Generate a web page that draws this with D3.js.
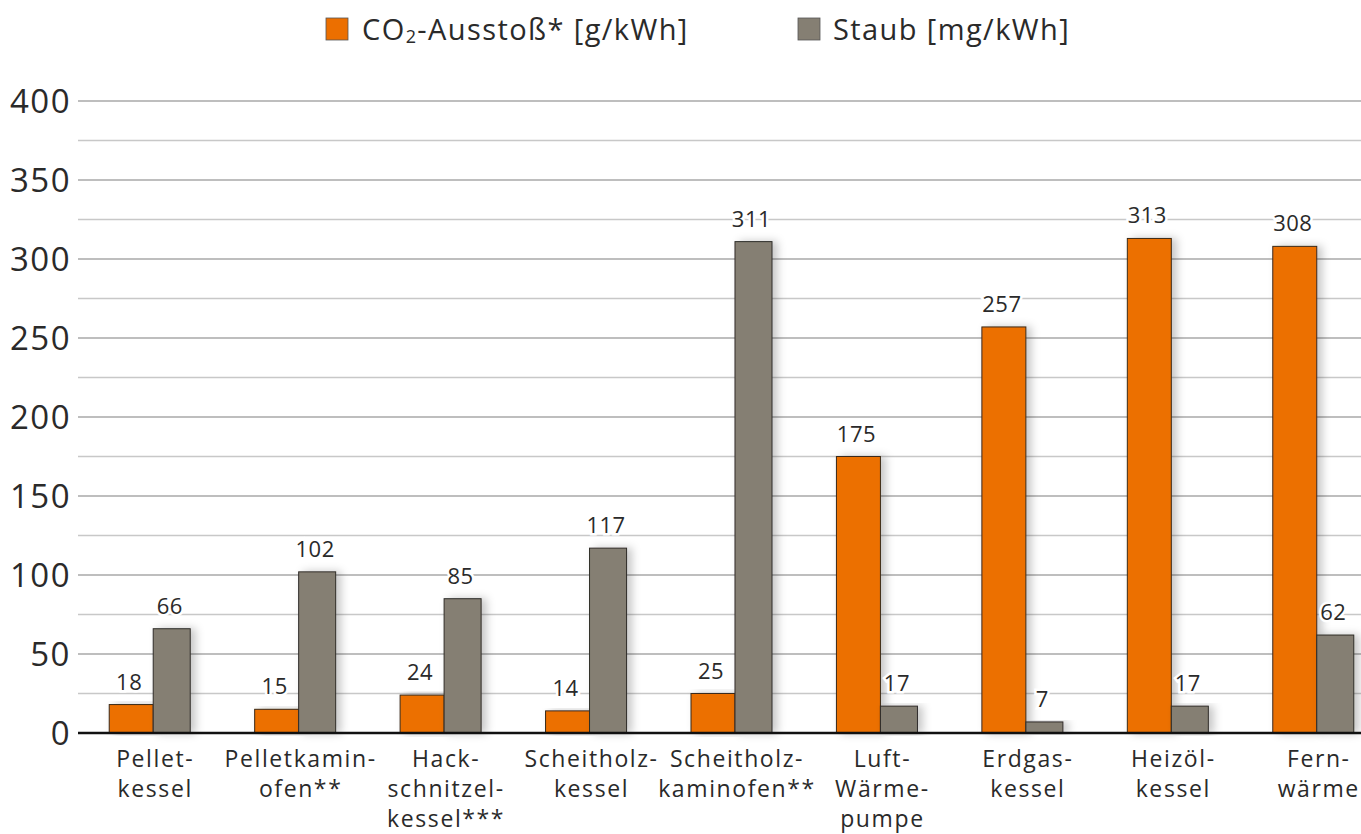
<!DOCTYPE html>
<html>
<head>
<meta charset="utf-8">
<script src="https://cdn.jsdelivr.net/npm/d3@7"></script>
<style>
  body { margin: 0; background: #fff; }
  svg { display: block; font-family: "Open Sans", sans-serif; }
</style>
</head>
<body>
<svg id="chart" width="1361" height="834"></svg>
<script>
(function() {
    "use strict";

    // category labels, one entry per line
    var categories = [
        ["Pellet-", "kessel"],
        ["Pelletkamin-", "ofen**"],
        ["Hack-", "schnitzel-", "kessel***"],
        ["Scheitholz-", "kessel"],
        ["Scheitholz-", "kaminofen**"],
        ["Luft-", "Wärme-", "pumpe"],
        ["Erdgas-", "kessel"],
        ["Heizöl-", "kessel"],
        ["Fern-", "wärme"]
    ];
    var co2Values = [18, 15, 24, 14, 25, 175, 257, 313, 308];
    var staubValues = [66, 102, 85, 117, 311, 17, 7, 17, 62];
    var yTicks = [0, 50, 100, 150, 200, 250, 300, 350, 400];
    var yMinorTicks = [25, 75, 125, 175, 225, 275, 325, 375];
    var legendItems = ["co2", "staub"];

    var colors = { co2: "#ec6f00", staub: "#857f73" };
    var W = 1361;

    var svg = d3.select("#chart");

    var defs = svg.append("defs");
    var f = defs.append("filter").attr("id", "shadow")
        .attr("x", "-20%").attr("y", "-10%").attr("width", "160%").attr("height", "120%");
    f.append("feDropShadow").attr("dx", 5).attr("dy", 0)
        .attr("stdDeviation", 4).attr("flood-color", "#000").attr("flood-opacity", 0.22);

    var y = d3.scaleLinear().domain([0, 400]).range([733, 101]);
    var x = d3.scaleBand()
        .domain(d3.range(categories.length))
        .range([77, 1386])
        .paddingInner(0.443)
        .paddingOuter(0.2215);
    // orange bar a bit wider than the grey one
    var split = d3.scaleLinear().domain([0, 1]).range([0, x.bandwidth()]);
    var orangeShare = 0.543;

    // grid
    var grid = svg.append("g");
    grid.selectAll("line.minor").data(yMinorTicks).join("line")
        .attr("class", "minor")
        .attr("x1", 78).attr("x2", W)
        .attr("y1", function(d) { return y(d); }).attr("y2", function(d) { return y(d); })
        .attr("stroke", "#c8c8c8").attr("stroke-width", 1.5);
    grid.selectAll("line.major").data(yTicks.filter(function(d) { return d > 0; })).join("line")
        .attr("class", "major")
        .attr("x1", 78).attr("x2", W)
        .attr("y1", function(d) { return y(d); }).attr("y2", function(d) { return y(d); })
        .attr("stroke", "#a8a8a8").attr("stroke-width", 1.5);

    // y tick labels
    svg.append("g").selectAll("text").data(yTicks).join("text")
        .attr("x", 71)
        .attr("y", function(d) { return y(d) + 12; })
        .attr("text-anchor", "end")
        .attr("font-size", 33)
        .attr("letter-spacing", 1.5)
        .attr("fill", "#2a2a2a")
        .text(function(d) { return d; });

    // bars
    var groups = svg.append("g").selectAll("g").data(categories).join("g");

    groups.append("rect")
        .attr("x", function(d, i) { return x(i); })
        .attr("y", function(d, i) { return y(co2Values[i]); })
        .attr("width", split(orangeShare))
        .attr("height", function(d, i) { return y(0) - y(co2Values[i]); })
        .attr("fill", colors.co2)
        .attr("stroke", "#3a2a1a").attr("stroke-width", 1)
        .attr("filter", "url(#shadow)");

    groups.append("rect")
        .attr("x", function(d, i) { return x(i) + split(orangeShare); })
        .attr("y", function(d, i) { return y(staubValues[i]); })
        .attr("width", split(1 - orangeShare))
        .attr("height", function(d, i) { return y(0) - y(staubValues[i]); })
        .attr("fill", colors.staub)
        .attr("stroke", "#2f2c28").attr("stroke-width", 1)
        .attr("filter", "url(#shadow)");

    // value labels
    function valueLabel(sel, vals, offset, share) {
        sel.append("text")
            .attr("x", function(d, i) { return x(i) + split(offset) + split(share) / 2 - 2; })
            .attr("y", function(d, i) { return y(vals[i]) - 15; })
            .attr("text-anchor", "middle")
            .attr("font-size", 22)
            .attr("letter-spacing", 0.5)
            .attr("fill", "#2a2a2a")
            .attr("stroke", "#fff").attr("stroke-width", 5)
            .attr("paint-order", "stroke")
            .text(function(d, i) { return vals[i]; });
    }
    valueLabel(groups, co2Values, 0, orangeShare);
    valueLabel(groups, staubValues, orangeShare, 1 - orangeShare);

    // baseline
    svg.append("line")
        .attr("x1", 78).attr("x2", W)
        .attr("y1", y(0)).attr("y2", y(0))
        .attr("stroke", "#111").attr("stroke-width", 2.5);

    // category labels
    groups.append("text")
        .attr("text-anchor", "middle")
        .attr("font-size", 23)
        .attr("letter-spacing", 1.6)
        .attr("fill", "#2a2a2a")
        .selectAll("tspan").data(function(d, i) { return d.map(function(t) { return { t: t, i: i }; }); })
        .join("tspan")
        .attr("x", function(d) { return x(d.i) + split(orangeShare) + 2; })
        .attr("y", function(d, j) { return 767 + j * 30; })
        .text(function(d) { return d.t; });

    // legend
    var legend = svg.append("g");
    var legendX = { co2: 326, staub: 798 };
    legend.selectAll("rect").data(legendItems).join("rect")
        .attr("x", function(d) { return legendX[d]; })
        .attr("y", 18)
        .attr("width", 22).attr("height", 22)
        .attr("fill", function(d) { return colors[d]; })
        .attr("stroke", "#555").attr("stroke-width", 0.8);

    var t1 = legend.append("text").attr("x", legendX.co2 + 36).attr("y", 40)
        .attr("font-size", 29).attr("letter-spacing", 1.4).attr("fill", "#2a2a2a");
    t1.append("tspan").text("CO");
    t1.append("tspan").attr("font-size", 18).attr("dy", 3).text("2");
    t1.append("tspan").attr("dy", -3).text("-Ausstoß* [g/kWh]");

    legend.append("text").attr("x", legendX.staub + 35).attr("y", 40)
        .attr("font-size", 29).attr("letter-spacing", 1.4).attr("fill", "#2a2a2a")
        .text("Staub [mg/kWh]");
})();
</script>
</body>
</html>
